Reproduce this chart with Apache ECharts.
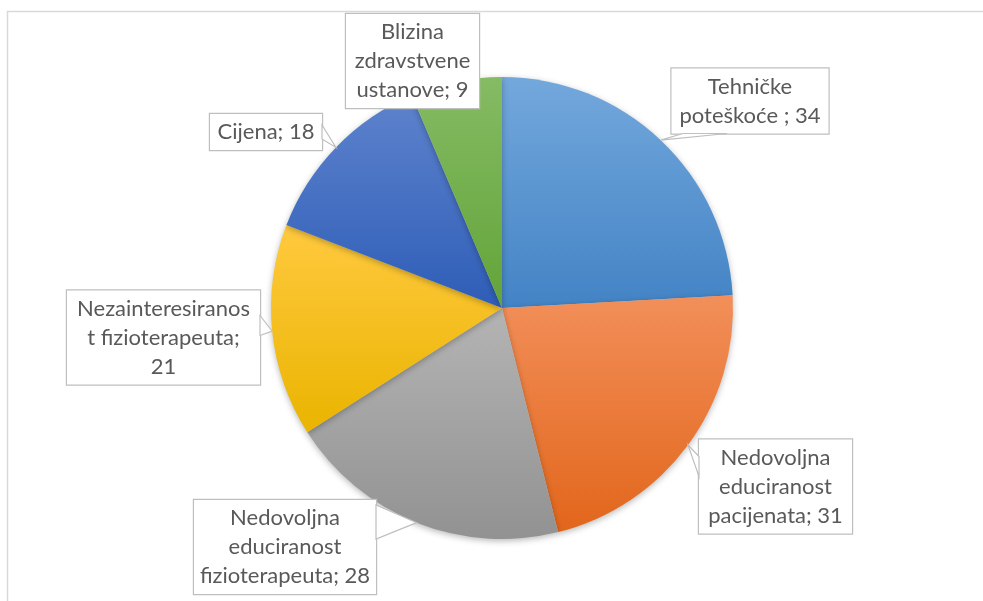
<!DOCTYPE html>
<html>
<head>
<meta charset="utf-8">
<script src="https://cdn.jsdelivr.net/npm/echarts@6/dist/echarts.min.js"></script>
<style>
html,body{margin:0;padding:0;background:#fff;}
#chart{width:983px;height:601px;}
</style>
</head>
<body>
<div id="chart"></div>
<script>
// ---- data ----
const categories = ['Tehničke poteškoće', 'Nedovoljna educiranost pacijenata', 'Nedovoljna educiranost fizioterapeuta', 'Nezainteresiranost fizioterapeuta', 'Cijena', 'Blizina zdravstvene ustanove'];
const values = [34, 31, 28, 21, 18, 9];
// label text as wrapped in the picture (value appended)
const labelTexts = ['Tehničke\npoteškoće ; ', 'Nedovoljna\neduciranost\npacijenata; ', 'Nedovoljna\neduciranost\nfizioterapeuta; ', 'Nezainteresiranos\nt fizioterapeuta;\n', 'Cijena; ', 'Blizina\nzdravstvene\nustanove; '];

// ---- layout / style (not data) ----
const palette = [
  ['#73a8dc', '#4383c5'],
  ['#f28f5a', '#e2661b'],
  ['#b4b4b4', '#929292'],
  ['#ffc93f', '#eab400'],
  ['#5e83cd', '#2e5db7'],
  ['#85bb64', '#63a439']
];
const boxCenters = [[750, 101], [775.5, 486.5], [285, 547], [163.5, 337.5], [266, 132], [412.5, 61]];
const boxWidths = [159, 155, 184, 195, 114, 135];
// callout base on the box: [side, offset along side from box centre, half base width]
const pointerBase = [['bottom', -45, 22], ['left', -20, 10], ['right', -25, 17], ['right', -12, 10], ['right', 0, 7], null];
const padX = 6;
const lineH = 29;
const pieCenter = [502, 308];
const pieRadius = 231;

// mid-angle of each slice (from the data) for the callout tips
const total = values.reduce((a, b) => a + b, 0);
const midAngles = [];
{
  let acc = 0;
  values.forEach(v => { midAngles.push((acc + v / 2) / total * 2 * Math.PI); acc += v; });
}

// callout wedges: from slice edge (mid-angle) to the label box side
const pointers = [];
values.forEach((v, i) => {
  const pb = pointerBase[i];
  if (!pb) return;
  const c = boxCenters[i];
  const nLines = (labelTexts[i] + v).split('\n').length;
  const w = boxWidths[i], h = nLines * lineH + 9;
  const a = midAngles[i];
  const tip = [pieCenter[0] + pieRadius * Math.sin(a), pieCenter[1] - pieRadius * Math.cos(a)];
  let p1, p2;
  if (pb[0] === 'bottom') {
    const y = c[1] + h / 2 - 1;
    p1 = [c[0] + pb[1] - pb[2], y]; p2 = [c[0] + pb[1] + pb[2], y];
  } else {
    const x = pb[0] === 'left' ? c[0] - w / 2 + 1 : c[0] + w / 2 - 1;
    p1 = [x, c[1] + pb[1] - pb[2]]; p2 = [x, c[1] + pb[1] + pb[2]];
  }
  pointers.push({
    type: 'polygon',
    shape: {points: [p1, tip, p2]},
    style: {stroke: '#bfbfbf', lineWidth: 1.2, fill: '#ffffff'},
    silent: true,
    z: 100
  });
});

const chart = echarts.init(document.getElementById('chart'), null, {renderer: 'canvas'});

const data = categories.map((c, i) => ({
  name: c,
  value: values[i],
  itemStyle: {
    color: new echarts.graphic.LinearGradient(0, 0, 0, 1, [
      {offset: 0, color: palette[i][0]},
      {offset: 1, color: palette[i][1]}
    ])
  },
  label: {width: boxWidths[i] - 2 * padX - 2}
}));

const option = {
  backgroundColor: '#ffffff',
  animation: false,
  graphic: {
    elements: [{
      type: 'rect',
      shape: {x: 7.5, y: 11.5, width: 1200, height: 800},
      style: {fill: 'none', stroke: '#d9d9d9', lineWidth: 1.5},
      silent: true,
      z: -10
    }].concat(pointers)
  },
  series: [{
    type: 'pie',
    center: pieCenter,
    radius: pieRadius,
    startAngle: 90,
    clockwise: true,
    avoidLabelOverlap: false,
    z: 2,
    itemStyle: {
      borderWidth: 0,
      shadowBlur: 6,
      shadowColor: 'rgba(0,0,0,0.28)',
      shadowOffsetY: 2
    },
    emphasis: {disabled: true},
    label: {
      show: true,
      position: 'outside',
      formatter: p => labelTexts[p.dataIndex] + p.value,
      fontFamily: 'Lato',
      fontSize: 22,
      lineHeight: lineH,
      color: '#595959',
      align: 'center',
      overflow: 'none',
      backgroundColor: '#ffffff',
      borderColor: '#bfbfbf',
      borderWidth: 1.2,
      padding: [4, padX, 3, padX]
    },
    labelLine: {show: false},
    labelLayout: function (params) {
      const c = boxCenters[params.dataIndex];
      return {x: c[0], y: c[1], align: 'center', verticalAlign: 'middle'};
    },
    data: data
  }]
};
chart.setOption(option);
</script>
</body>
</html>
